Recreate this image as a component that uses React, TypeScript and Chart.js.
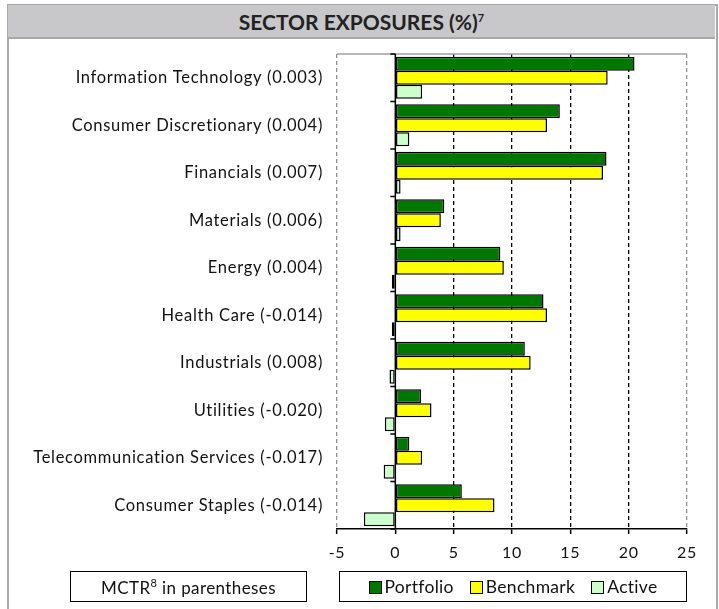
import React, { useEffect, useRef } from "react";
import { Chart, registerables } from "chart.js";

Chart.register(...registerables);

const categories = [
  "Information Technology (0.003)",
  "Consumer Discretionary (0.004)",
  "Financials (0.007)",
  "Materials (0.006)",
  "Energy (0.004)",
  "Health Care (-0.014)",
  "Industrials (0.008)",
  "Utilities (-0.020)",
  "Telecommunication Services (-0.017)",
  "Consumer Staples (-0.014)",
];
const portfolio = [20.5, 14.1, 18.1, 4.2, 9.0, 12.7, 11.1, 2.2, 1.2, 5.7];
const benchmark = [18.2, 13.0, 17.8, 3.9, 9.3, 13.0, 11.6, 3.1, 2.3, 8.5];
const active = [2.3, 1.2, 0.45, 0.45, -0.3, -0.3, -0.5, -0.9, -1.0, -2.7];
const seriesNames = ["Portfolio", "Benchmark", "Active"];
const seriesColors = ["#007800", "#ffff00", "#ccffcc"];
const xMin = -5;
const xMax = 25;
const xStep = 5;

const FONT = "Lato, 'Open Sans', sans-serif";

const framePlugin = {
  id: "framePlugin",
  beforeDraw(chart: any) {
    (chart.ctx as any).letterSpacing = "0.7px";
  },
  beforeDatasetsDraw(chart: any) {
    const { ctx, chartArea } = chart;
    const { left, right, top } = chartArea;
    ctx.save();
    ctx.strokeStyle = "#a0a0a0";
    ctx.lineWidth = 1.5;
    ctx.beginPath();
    ctx.moveTo(left, top);
    ctx.lineTo(right, top);
    ctx.stroke();
    ctx.restore();
  },
  afterDatasetsDraw(chart: any) {
    const { ctx, chartArea, scales } = chart;
    const x0 = scales.x.getPixelForValue(0);
    const { top, bottom } = chartArea;
    ctx.save();
    ctx.strokeStyle = "#000";
    ctx.lineWidth = 1.5;
    ctx.beginPath();
    ctx.moveTo(x0, top);
    ctx.lineTo(x0, bottom);
    ctx.stroke();
    const n = categories.length;
    const h = (bottom - top) / n;
    ctx.beginPath();
    for (let i = 0; i <= n; i++) {
      const y = top + i * h;
      ctx.moveTo(x0 - 5, y);
      ctx.lineTo(x0, y);
    }
    ctx.stroke();
    ctx.restore();
  },
};

export default function App() {
  const ref = useRef<HTMLCanvasElement>(null);
  useEffect(() => {
    if (!ref.current) return;
    const chart = new Chart(ref.current, {
      type: "bar",
      data: {
        labels: categories,
        datasets: [portfolio, benchmark, active].map((d, i) => ({
          label: seriesNames[i],
          data: d,
          backgroundColor: seriesColors[i],
          borderColor: "#000",
          borderWidth: 1.5,
          borderSkipped: false,
          categoryPercentage: 0.88,
          barPercentage: 1.0,
        })),
      },
      options: {
        indexAxis: "y",
        animation: false,
        responsive: false,
        maintainAspectRatio: false,
        layout: { padding: { left: 0, right: 32, top: 54, bottom: 0 } },
        plugins: {
          legend: { display: false },
          tooltip: { enabled: false },
          title: { display: false },
        },
        scales: {
          x: {
            type: "linear",
            min: xMin,
            max: xMax,
            ticks: {
              stepSize: xStep,
              color: "#111",
              font: { family: FONT, size: 16 },
              padding: 9,
            },
            grid: {
              color: (c: any) => {
                const v = c.tick ? c.tick.value : 0;
                if (v === xMin || v === xMax) return "#909090";
                if (v === 0) return "rgba(0,0,0,0)";
                return "#000";
              },
              lineWidth: 1.3,
              drawTicks: true,
              tickLength: 5,
              tickColor: "#000",
              tickBorderDash: [],
              tickWidth: 1.5,
            },
            border: { display: true, color: "#000", width: 1.5, dash: [4, 3] },
            afterFit: (s: any) => {
              s.height = 80;
            },
          },
          y: {
            type: "category",
            grid: { display: false, drawTicks: false },
            border: { display: false },
            ticks: {
              color: "#111",
              font: { family: FONT, size: 16.5 },
              padding: 14,
            },
            afterFit: (s: any) => {
              s.width = 337;
            },
          },
        },
      },
      plugins: [framePlugin],
    });
    return () => chart.destroy();
  }, []);

  const sq = (c: string) => (
    <span
      style={{
        display: "inline-block",
        width: 11,
        height: 11,
        background: c,
        border: "1.5px solid #000",
        marginRight: 3,
        verticalAlign: "-1px",
      }}
    />
  );

  return (
    <div
      style={{
        position: "absolute",
        left: 0,
        top: 0,
        width: 719,
        height: 609,
        background: "#fff",
        overflow: "hidden",
      }}
    >
      <canvas ref={ref} width={719} height={609} style={{ position: "absolute", left: 0, top: 0 }} />
      <div
        style={{
          position: "absolute",
          left: 7,
          top: 4,
          width: 707,
          height: 640,
          borderLeft: "2px solid #a8a8a8",
          borderRight: "2px solid #a8a8a8",
          borderTop: "2px solid #a8a8a8",
          pointerEvents: "none",
        }}
      />
      <div
        style={{
          position: "absolute",
          left: 8,
          top: 5,
          width: 707,
          height: 32,
          background: "#c8c8ca",
          borderBottom: "2px solid #a8a8a8",
          display: "flex",
          alignItems: "center",
          justifyContent: "center",
          fontFamily: FONT,
          fontWeight: 700,
          fontSize: 21,
          color: "#222",
        }}
      >
        <span>
          SECTOR EXPOSURES (%)<sup style={{ fontSize: 11 }}>7</sup>
        </span>
      </div>
      <div
        style={{
          position: "absolute",
          left: 70,
          top: 571,
          width: 235,
          height: 29,
          border: "1.5px solid #000",
          display: "flex",
          alignItems: "center",
          justifyContent: "center",
          fontFamily: FONT,
          fontSize: 17,
          letterSpacing: 0.4,
          color: "#111",
        }}
      >
        <span>
          MCTR<sup style={{ fontSize: 11 }}>8</sup> in parentheses
        </span>
      </div>
      <div
        style={{
          position: "absolute",
          left: 339,
          top: 571,
          width: 346,
          height: 29,
          border: "1.5px solid #000",
          display: "flex",
          alignItems: "center",
          justifyContent: "center",
          gap: 16,
          fontFamily: FONT,
          fontSize: 17.5,
          letterSpacing: 0.3,
          color: "#111",
        }}
      >
        {seriesNames.map((n, i) => (
          <span key={n}>
            {sq(seriesColors[i])}
            {n}
          </span>
        ))}
      </div>
    </div>
  );
}
